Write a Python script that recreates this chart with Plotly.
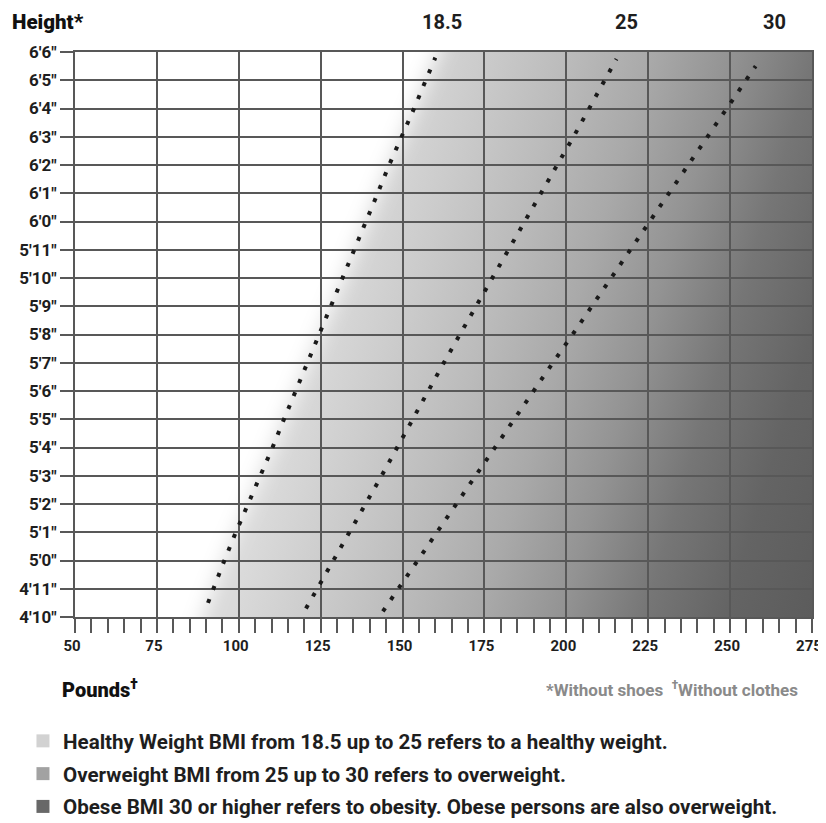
import base64
import plotly.graph_objects as go

# ---------------- data ----------------
height_ticks = list(range(58, 79))  # inches
height_labels = ["4′10″", "4′11″", "5′0″", "5′1″", "5′2″", "5′3″", "5′4″", "5′5″", "5′6″",
                 "5′7″", "5′8″", "5′9″", "5′10″", "5′11″", "6′0″", "6′1″", "6′2″", "6′3″",
                 "6′4″", "6′5″", "6′6″"]
pound_labels = [50, 75, 100, 125, 150, 175, 200, 225, 250, 275]

bmi_names = ["18.5", "25", "30"]
height_185 = [58.5, 59, 60, 61, 62, 63, 64, 65, 66, 67, 68, 69, 70, 71, 72, 73, 74, 75, 76, 77, 77.8]
weight_185 = [90.6, 92.2, 95.6, 99.1, 102.9, 106.5, 110.3, 113.8, 117.4, 121.0, 124.7, 128.3, 131.9,
              135.4, 138.9, 142.4, 145.9, 149.8, 153.5, 157.1, 160.0]
height_25 = [58.3, 59, 60, 61, 62, 63, 64, 65, 66, 67, 68, 69, 70, 71, 72, 73, 74, 75, 76, 77, 77.75]
weight_25 = [120.5, 124.0, 128.9, 133.8, 138.7, 143.6, 148.3, 153.1, 157.8, 162.6, 167.5, 172.4, 177.3,
             182.2, 187.3, 192.3, 197.2, 202.2, 206.9, 211.9, 215.3]
height_30 = [58.2, 59, 60, 61, 62, 63, 64, 65, 66, 67, 68, 69, 70, 71, 72, 73, 74, 75, 76, 77, 77.5]
weight_30 = [144.0, 148.7, 154.6, 160.4, 166.2, 172.1, 178.0, 183.9, 189.9, 195.9, 201.9, 207.8, 213.6,
             219.4, 225.2, 231.1, 237.0, 243.0, 248.8, 254.8, 257.8]

legend_names = ["Healthy Weight BMI from 18.5 up to 25 refers to a healthy weight.",
                "Overweight BMI from 25 up to 30 refers to overweight.",
                "Obese BMI 30 or higher refers to obesity. Obese persons are also overweight."]
legend_colors = ["#d2d2d2", "#a2a2a2", "#686868"]

# ---------------- style ----------------
FONT = "Roboto, Liberation Sans, sans-serif"
PAGE_OFF = 8                      # default body margin of the html page
W, H = 826, 823 - PAGE_OFF
REF_L, REF_T, REF_R, REF_B = 75, 52, 812, 617   # plot box on the page
ML, MT = REF_L - PAGE_OFF, REF_T - PAGE_OFF
MR, MB = W - (REF_R - PAGE_OFF), H - (REF_B - PAGE_OFF)
PW, PH = W - ML - MR, H - MT - MB
XR = (50, 275)
YR = (58, 78)
GRID = "#585858"
INK = "#1e1e1e"


def to_px(w, h):
    return ((w - XR[0]) * PW / (XR[1] - XR[0]), (YR[1] - h) * PH / (YR[1] - YR[0]))


# background gradient (style), white area left of 18.5 line with a soft edge
pts = [to_px(w, h) for w, h in zip(weight_185, height_185)]
(x0, y0), (x1, y1) = pts[0], pts[1]
bot = (x0 + (x0 - x1) / (y0 - y1) * (PH + 80 - y0), PH + 80)
(xa, ya), (xb, yb) = pts[-2], pts[-1]
top = (xb + (xb - xa) / (yb - ya) * (-80 - yb), -80)
poly = [bot] + pts + [top, (-120, -80), (-120, PH + 80)]
poly_s = " ".join(f"{x:.1f},{y:.1f}" for x, y in poly)

d = (0.957, 0.291)
base = 0.957 * REF_L + 0.291 * REF_T
s0, s1 = 400, 960
p0 = ((s0 - base) * d[0], (s0 - base) * d[1])
p1 = ((s1 - base) * d[0], (s1 - base) * d[1])
stops = [(400, 218), (480, 203), (560, 187), (640, 169), (716, 147), (795, 118), (873, 100), (955, 92)]
stop_s = "".join(
    f'<stop offset="{(s - s0) / (s1 - s0):.3f}" stop-color="rgb({g},{g},{g})"/>' for s, g in stops)
svg = (f'<svg xmlns="http://www.w3.org/2000/svg" width="{PW}" height="{PH}" viewBox="0 0 {PW} {PH}">'
       f'<defs><linearGradient id="g" gradientUnits="userSpaceOnUse" x1="{p0[0]:.1f}" y1="{p0[1]:.1f}" '
       f'x2="{p1[0]:.1f}" y2="{p1[1]:.1f}">{stop_s}</linearGradient>'
       f'<filter id="b" filterUnits="userSpaceOnUse" x="-300" y="-300" width="{PW + 600}" height="{PH + 600}">'
       f'<feGaussianBlur stdDeviation="10"/></filter></defs>'
       f'<rect x="0" y="0" width="{PW}" height="{PH}" fill="url(#g)"/>'
       f'<polygon points="{poly_s}" fill="#ffffff" filter="url(#b)"/></svg>')
uri = "data:image/svg+xml;base64," + base64.b64encode(svg.encode()).decode()

fig = go.Figure()

for hs, ws in [(height_185, weight_185), (height_25, weight_25), (height_30, weight_30)]:
    fig.add_trace(go.Scatter(x=ws, y=hs, mode="lines", showlegend=False, hoverinfo="skip",
                             line=dict(color="#1a1a1a", width=4, dash="4px,10px")))

for name, col in zip(legend_names, legend_colors):
    fig.add_trace(go.Scatter(x=[None], y=[None], mode="markers", name=name, legendgroup=name,
                             marker=dict(symbol="square", size=13, color=col, line=dict(width=0))))

x_minor = list(range(50, 276, 5))
fig.update_xaxes(range=list(XR), tickvals=pound_labels, ticktext=[str(v) for v in pound_labels],
                 ticks="outside", ticklen=14, tickwidth=2, tickcolor=GRID,
                 showgrid=True, gridcolor=GRID, gridwidth=2, zeroline=False,
                 showline=True, linecolor=GRID, linewidth=2, mirror=True,
                 ticklabeloverflow="allow", ticklabelshift=-3,
                 tickfont=dict(family=FONT, size=15, color=INK, weight="bold"),
                 minor=dict(tickvals=x_minor, ticks="outside", ticklen=14, tickwidth=2,
                            tickcolor=GRID, showgrid=False))
fig.update_yaxes(range=list(YR), tickvals=height_ticks, ticktext=height_labels,
                 ticks="outside", ticklen=13, tickwidth=2, tickcolor=GRID,
                 showgrid=True, gridcolor=GRID, gridwidth=2, zeroline=False,
                 showline=True, linecolor=GRID, linewidth=2, mirror=True,
                 ticklabeloverflow="allow",
                 tickfont=dict(family=FONT, size=17, color=INK, weight="bold"))

ann = [
    dict(text="Height*", x=0, xref="paper", xanchor="left", xshift=-65, y=1, yref="paper",
         yanchor="middle", yshift=30, font=dict(family=FONT, size=20.5, color="#111", weight=900)),
    dict(text="Pounds<sup>†</sup>", x=0, xref="paper", xanchor="left", xshift=-15, y=0, yref="paper",
         yanchor="middle", yshift=-72, font=dict(family=FONT, size=20, color="#111", weight=900)),
    dict(text="*Without shoes  <sup>†</sup>Without clothes", x=1, xref="paper", xanchor="right", xshift=-12,
         y=0, yref="paper", yanchor="middle", yshift=-72,
         font=dict(family=FONT, size=17, color="#8a8a8a", weight="bold")),
]
label_shift = [7, 10, 19]
for name, ws, xs in zip(bmi_names, [weight_185, weight_25, weight_30], label_shift):
    ann.append(dict(text=name, x=ws[-1], xref="x", xanchor="center", xshift=xs, y=1, yref="paper",
                    yanchor="middle", yshift=30,
                    font=dict(family=FONT, size=20, color=INK, weight="bold")))
for a in ann:
    a["showarrow"] = False

fig.update_layout(
    width=W, height=H, margin=dict(l=ML, r=MR, t=MT, b=MB, autoexpand=False),
    paper_bgcolor="white", plot_bgcolor="white",
    annotations=ann,
    images=[dict(source=uri, xref="x", yref="y", x=XR[0], y=YR[1], sizex=XR[1] - XR[0],
                 sizey=YR[1] - YR[0], sizing="stretch", layer="below", xanchor="left",
                 yanchor="top")],
    legend=dict(x=-0.0706, xanchor="left", y=-0.184, yanchor="top", tracegroupgap=3,
                font=dict(family=FONT, size=20.6, color=INK, weight="bold"),
                bgcolor="rgba(0,0,0,0)", itemclick=False),
    showlegend=True,
)

fig.write_html("out.html")
